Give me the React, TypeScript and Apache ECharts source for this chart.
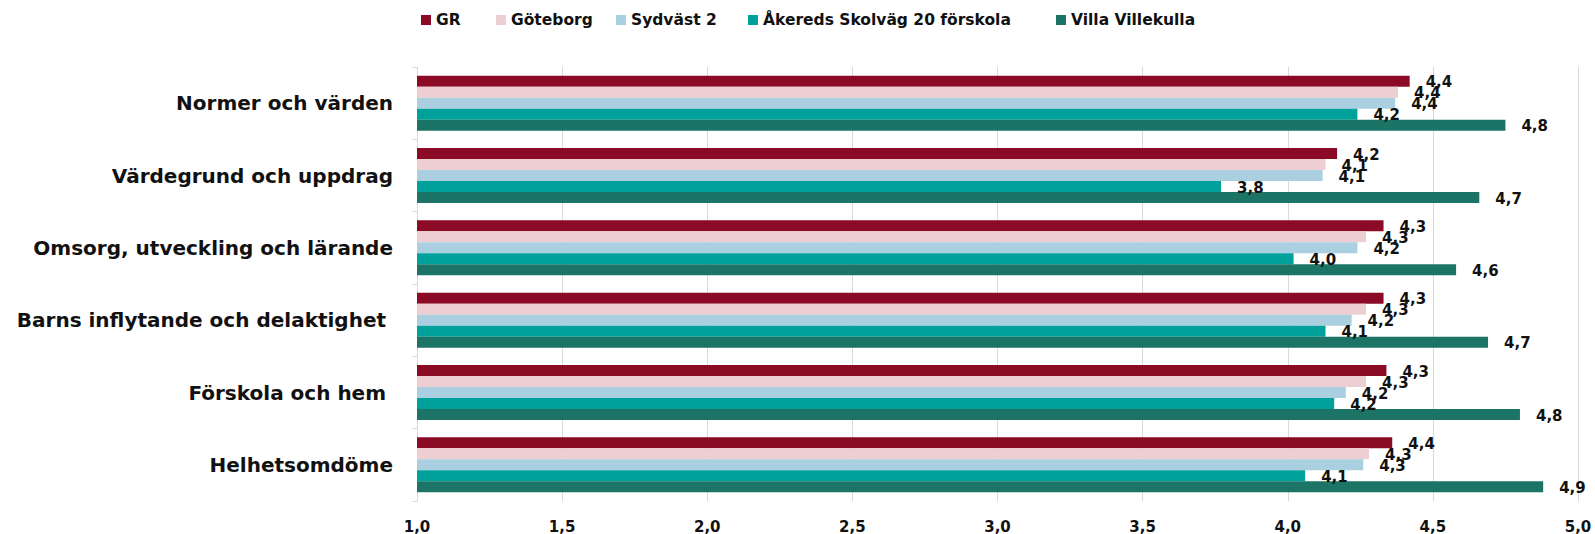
import React, { useEffect, useRef } from "react";
import * as echarts from "echarts";

const categories = [
  "Normer och värden",
  "Värdegrund och uppdrag",
  "Omsorg, utveckling och lärande",
  "Barns inflytande och delaktighet ",
  "Förskola och hem ",
  "Helhetsomdöme",
];

const seriesNames = ["GR", "Göteborg", "Sydväst 2", "Åkereds Skolväg 20 förskola", "Villa Villekulla"];
const gr = [4.42, 4.17, 4.33, 4.33, 4.34, 4.36];
const goteborg = [4.38, 4.13, 4.27, 4.27, 4.27, 4.28];
const sydvast = [4.37, 4.12, 4.24, 4.22, 4.2, 4.26];
const akereds = [4.24, 3.77, 4.02, 4.13, 4.16, 4.06];
const villa = [4.75, 4.66, 4.58, 4.69, 4.8, 4.88];
const seriesValues = [gr, goteborg, sydvast, akereds, villa];
const colors = ["#8B0A26", "#EDCFD1", "#A9CFE0", "#00A19A", "#1B7466"];
const legendLefts = [421, 496, 616, 748, 1056];

const FONT = "DejaVu Sans";
const fmt = (v: number) => v.toFixed(1).replace(".", ",");

export default function App() {
  const ref = useRef<HTMLDivElement>(null);
  useEffect(() => {
    if (!ref.current) return;
    const chart = echarts.init(ref.current, undefined, { renderer: "svg" });
    chart.setOption({
      animation: false,
      backgroundColor: "#ffffff",
      legend: seriesNames.map((n, i) => ({
        data: [n],
        left: legendLefts[i],
        top: 12,
        padding: 0,
        itemWidth: 10,
        itemHeight: 10,
        icon: "rect",
        textStyle: { fontFamily: FONT, fontSize: 15.5, fontWeight: "bold", color: "#111" },
      })),
      grid: { left: 417, right: 17, top: 67, bottom: 33, containLabel: false },
      xAxis: {
        type: "value",
        min: 1,
        max: 5,
        interval: 0.5,
        axisLine: { show: false },
        axisTick: { show: false },
        splitLine: { show: true, lineStyle: { color: "#d9d9d9", width: 1 } },
        axisLabel: {
          formatter: (v: number) => fmt(v),
          fontFamily: FONT,
          fontSize: 15,
          fontWeight: "bold",
          color: "#111",
          margin: 18,
        },
      },
      yAxis: {
        type: "category",
        data: categories,
        inverse: true,
        axisLine: { show: true, lineStyle: { color: "#d9d9d9" } },
        axisTick: { show: true, length: 5, lineStyle: { color: "#d9d9d9" } },
        axisLabel: {
          fontFamily: FONT,
          fontSize: 20,
          fontWeight: "bold",
          color: "#111",
          margin: 24,
        },
      },
      series: seriesNames.map((n, i) => ({
        name: n,
        type: "bar",
        data: seriesValues[i],
        barWidth: 11,
        barGap: "0%",
        itemStyle: { color: colors[i] },
        label: {
          show: true,
          position: "right",
          distance: 16,
          offset: [0, 1],
          formatter: (p: any) => fmt(p.value),
          fontFamily: FONT,
          fontSize: 15,
          fontWeight: "bold",
          color: "#111",
        },
      })),
    });
    return () => chart.dispose();
  }, []);
  return (
    <div
      ref={ref}
      style={{ position: "fixed", left: 0, top: 0, width: 1595, height: 534 }}
    />
  );
}
